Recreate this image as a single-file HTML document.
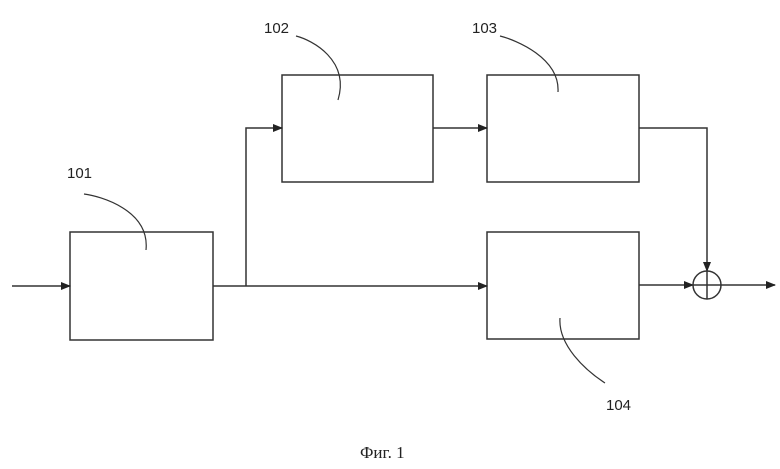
<!DOCTYPE html>
<html><head><style>body{margin:0;background:#fff}</style></head><body>
<svg width="780" height="464" xmlns="http://www.w3.org/2000/svg">
<defs><marker id="a" markerWidth="10" markerHeight="8" refX="9" refY="4" orient="auto" markerUnits="userSpaceOnUse"><path d="M0,0 L10,4 L0,8 Z" fill="#222"/></marker></defs>
<g fill="none" stroke="#333" stroke-width="1.5">
<rect x="70" y="232" width="143" height="108"/>
<rect x="282" y="75" width="151" height="107"/>
<rect x="487" y="75" width="152" height="107"/>
<rect x="487" y="232" width="152" height="107"/>
<line x1="12" y1="286" x2="70" y2="286" marker-end="url(#a)"/>
<line x1="213" y1="286" x2="487" y2="286" marker-end="url(#a)"/>
<polyline points="246,286 246,128 282,128" marker-end="url(#a)"/>
<line x1="433" y1="128" x2="487" y2="128" marker-end="url(#a)"/>
<polyline points="639,128 707,128 707,271" marker-end="url(#a)"/>
<line x1="639" y1="285" x2="693" y2="285" marker-end="url(#a)"/>
<circle cx="707" cy="285" r="14"/>
<line x1="693" y1="285" x2="721" y2="285"/>
<line x1="707" y1="271" x2="707" y2="299"/>
<line x1="721" y1="285" x2="775" y2="285" marker-end="url(#a)"/>
<path d="M84,194 C100,196 150,210 146,250" stroke-width="1.2"/>
<path d="M296,36 C312,40 350,60 338,100" stroke-width="1.2"/>
<path d="M500,36 C516,40 560,58 558,92" stroke-width="1.2"/>
<path d="M560,318 C558,345 585,370 605,383" stroke-width="1.2"/>
</g>
<g font-family="Liberation Sans, sans-serif" font-size="15" fill="#222">
<text x="67" y="178">101</text>
<text x="264" y="33">102</text>
<text x="472" y="33">103</text>
<text x="606" y="410">104</text>
</g>
<text x="360" y="458" font-family="Liberation Serif, serif" font-size="17" fill="#222">Фиг. 1</text>
</svg>
</body></html>
